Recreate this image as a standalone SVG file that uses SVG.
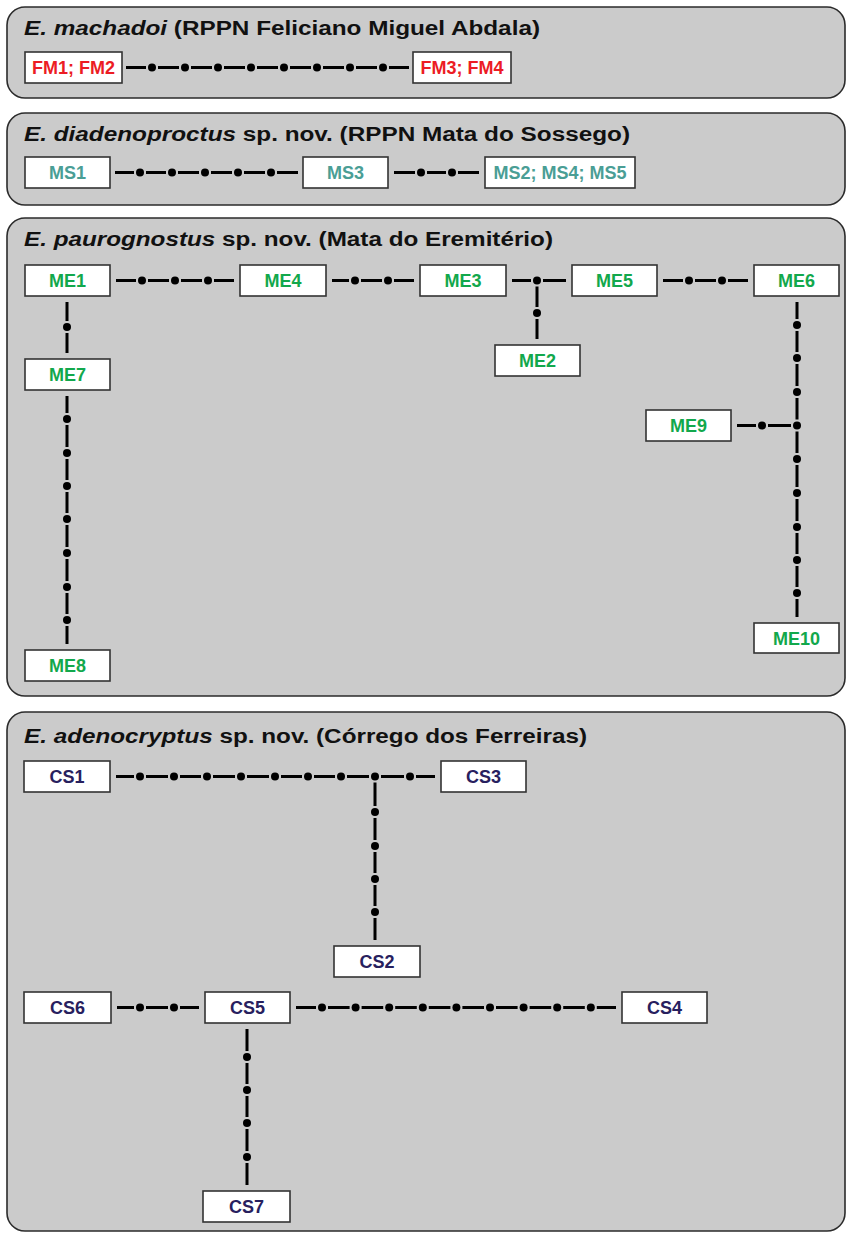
<svg xmlns="http://www.w3.org/2000/svg" width="846" height="1233" viewBox="0 0 846 1233">
<style>
.panel{fill:#cbcbcb;stroke:#2b2b2b;stroke-width:1.6}
.box{fill:#ffffff;stroke:#333333;stroke-width:1.6}
.title{font-family:"Liberation Sans",Arial,sans-serif;font-weight:bold;font-size:20px;fill:#111111}
.lbl{font-family:"Liberation Sans",Arial,sans-serif;font-weight:bold;font-size:18px;text-anchor:middle}
.fm{fill:#ec1c24}.ms{fill:#4a9e95}.me{fill:#12a84c}.cs{fill:#27205e}
.seg{fill:none;stroke:#000000;stroke-width:3}
.dot{fill:#000000}
</style>
<rect width="846" height="1233" fill="#ffffff"/>
<g id="panels">
<rect class="panel" x="7" y="7" width="838" height="91" rx="18"/>
<rect class="panel" x="7" y="113" width="838" height="92" rx="18"/>
<rect class="panel" x="7" y="218" width="838" height="478" rx="18"/>
<rect class="panel" x="7" y="712" width="838" height="519" rx="18"/>
<text class="title" x="24" y="35" textLength="516" lengthAdjust="spacingAndGlyphs"><tspan font-style="italic">E. machadoi</tspan> (RPPN Feliciano Miguel Abdala)</text>
<text class="title" x="24" y="141" textLength="606" lengthAdjust="spacingAndGlyphs"><tspan font-style="italic">E. diadenoproctus</tspan> sp. nov. (RPPN Mata do Sossego)</text>
<text class="title" x="24" y="246" textLength="529" lengthAdjust="spacingAndGlyphs"><tspan font-style="italic">E. paurognostus</tspan> sp. nov. (Mata do Eremitério)</text>
<text class="title" x="24" y="743" textLength="563" lengthAdjust="spacingAndGlyphs"><tspan font-style="italic">E. adenocryptus</tspan> sp. nov. (Córrego dos Ferreiras)</text>
</g>
<g id="connectors">
<path class="seg" d="M126 67.5H146M158 67.5H179M191 67.5H212M224 67.5H245M257 67.5H278M290 67.5H311M323 67.5H344M356 67.5H377M389 67.5H409"/>
<g class="dot"><circle cx="152" cy="67.5" r="4"/><circle cx="185" cy="67.5" r="4"/><circle cx="218" cy="67.5" r="4"/><circle cx="251" cy="67.5" r="4"/><circle cx="284" cy="67.5" r="4"/><circle cx="317" cy="67.5" r="4"/><circle cx="350" cy="67.5" r="4"/><circle cx="383" cy="67.5" r="4"/></g>

<path class="seg" d="M115 172.5H134M146 172.5H166M178 172.5H199M211 172.5H232M244 172.5H265M277 172.5H298"/>
<g class="dot"><circle cx="140" cy="172.5" r="4"/><circle cx="172" cy="172.5" r="4"/><circle cx="205" cy="172.5" r="4"/><circle cx="238" cy="172.5" r="4"/><circle cx="271" cy="172.5" r="4"/></g>
<path class="seg" d="M394 172.5H415M427 172.5H446M458 172.5H479"/>
<g class="dot"><circle cx="421" cy="172.5" r="4"/><circle cx="452" cy="172.5" r="4"/></g>

<path class="seg" d="M116 280.5H136M148 280.5H169M181 280.5H202M214 280.5H234"/>
<g class="dot"><circle cx="142" cy="280.5" r="4"/><circle cx="175" cy="280.5" r="4"/><circle cx="208" cy="280.5" r="4"/></g>
<path class="seg" d="M332 280.5H349M361 280.5H382M394 280.5H414"/>
<g class="dot"><circle cx="355" cy="280.5" r="4"/><circle cx="388" cy="280.5" r="4"/></g>
<path class="seg" d="M512 280.5H531M543 280.5H566M537 286.5V307M537 319V339"/>
<g class="dot"><circle cx="537" cy="280.5" r="4"/><circle cx="537" cy="313" r="4"/></g>
<path class="seg" d="M663 280.5H683M695 280.5H716M728 280.5H748"/>
<g class="dot"><circle cx="689" cy="280.5" r="4"/><circle cx="722" cy="280.5" r="4"/></g>
<path class="seg" d="M67 302V321M67 333V353"/>
<g class="dot"><circle cx="67" cy="327" r="4"/></g>
<path class="seg" d="M67 396V413M67 425V447M67 459V480M67 492V513M67 525V547M67 559V581M67 593V614M67 626V644"/>
<g class="dot"><circle cx="67" cy="419" r="4"/><circle cx="67" cy="453" r="4"/><circle cx="67" cy="486" r="4"/><circle cx="67" cy="519" r="4"/><circle cx="67" cy="553" r="4"/><circle cx="67" cy="587" r="4"/><circle cx="67" cy="620" r="4"/></g>
<path class="seg" d="M797 302V319M797 331V352M797 364V386M797 398V419.5M797 431.5V453M797 465V487M797 499V521M797 533V554M797 566V587M797 599V617"/>
<g class="dot"><circle cx="797" cy="325" r="4"/><circle cx="797" cy="358" r="4"/><circle cx="797" cy="392" r="4"/><circle cx="797" cy="425.5" r="4"/><circle cx="797" cy="459" r="4"/><circle cx="797" cy="493" r="4"/><circle cx="797" cy="527" r="4"/><circle cx="797" cy="560" r="4"/><circle cx="797" cy="593" r="4"/></g>
<path class="seg" d="M737 425.5H756M768 425.5H791"/>
<g class="dot"><circle cx="762" cy="425.5" r="4"/></g>

<path class="seg" d="M116 776.5H134M146 776.5H168M180 776.5H201M213 776.5H235M247 776.5H269M281 776.5H302M314 776.5H335M347 776.5H369M381 776.5H404M416 776.5H435"/>
<g class="dot"><circle cx="140" cy="776.5" r="4"/><circle cx="174" cy="776.5" r="4"/><circle cx="207" cy="776.5" r="4"/><circle cx="241" cy="776.5" r="4"/><circle cx="275" cy="776.5" r="4"/><circle cx="308" cy="776.5" r="4"/><circle cx="341" cy="776.5" r="4"/><circle cx="375" cy="776.5" r="4"/><circle cx="410" cy="776.5" r="4"/></g>
<path class="seg" d="M375 782.5V806M375 818V840M375 852V873M375 885V906M375 918V940"/>
<g class="dot"><circle cx="375" cy="812" r="4"/><circle cx="375" cy="846" r="4"/><circle cx="375" cy="879" r="4"/><circle cx="375" cy="912" r="4"/></g>
<path class="seg" d="M117 1007.5H134M146 1007.5H168M180 1007.5H199"/>
<g class="dot"><circle cx="140" cy="1007.5" r="4"/><circle cx="174" cy="1007.5" r="4"/></g>
<path class="seg" d="M296 1007.5H316M328 1007.5H349.6M361.6 1007.5H383.2M395.2 1007.5H416.8M428.8 1007.5H450.4M462.4 1007.5H484M496 1007.5H517.6M529.6 1007.5H551.2M563.2 1007.5H584.8M596.8 1007.5H616"/>
<g class="dot"><circle cx="322" cy="1007.5" r="4"/><circle cx="355.6" cy="1007.5" r="4"/><circle cx="389.2" cy="1007.5" r="4"/><circle cx="422.8" cy="1007.5" r="4"/><circle cx="456.4" cy="1007.5" r="4"/><circle cx="490" cy="1007.5" r="4"/><circle cx="523.6" cy="1007.5" r="4"/><circle cx="557.2" cy="1007.5" r="4"/><circle cx="590.8" cy="1007.5" r="4"/></g>
<path class="seg" d="M247 1029V1051M247 1063V1084M247 1096V1117M247 1129V1151M247 1163V1185"/>
<g class="dot"><circle cx="247" cy="1057" r="4"/><circle cx="247" cy="1090" r="4"/><circle cx="247" cy="1123" r="4"/><circle cx="247" cy="1157" r="4"/></g>
</g>
<g id="FM1FM2"><rect class="box" x="25" y="52" width="97" height="31"/><text class="lbl fm" x="73.5" y="74">FM1; FM2</text></g>
<g id="FM3FM4"><rect class="box" x="413" y="52" width="98" height="31"/><text class="lbl fm" x="462" y="74">FM3; FM4</text></g>
<g id="MS1"><rect class="box" x="25" y="157" width="85" height="31"/><text class="lbl ms" x="67.5" y="179">MS1</text></g>
<g id="MS3"><rect class="box" x="303" y="157" width="85" height="31"/><text class="lbl ms" x="345.5" y="179">MS3</text></g>
<g id="MS2MS4MS5"><rect class="box" x="485" y="157" width="150" height="31"/><text class="lbl ms" x="560" y="179">MS2; MS4; MS5</text></g>
<g id="ME1"><rect class="box" x="25" y="265" width="85" height="31"/><text class="lbl me" x="67.5" y="287">ME1</text></g>
<g id="ME4"><rect class="box" x="240" y="265" width="86" height="31"/><text class="lbl me" x="283" y="287">ME4</text></g>
<g id="ME3"><rect class="box" x="420" y="265" width="86" height="31"/><text class="lbl me" x="463" y="287">ME3</text></g>
<g id="ME5"><rect class="box" x="572" y="265" width="85" height="31"/><text class="lbl me" x="614.5" y="287">ME5</text></g>
<g id="ME6"><rect class="box" x="754" y="265" width="85" height="31"/><text class="lbl me" x="796.5" y="287">ME6</text></g>
<g id="ME2"><rect class="box" x="495" y="345" width="85" height="31"/><text class="lbl me" x="537.5" y="367">ME2</text></g>
<g id="ME7"><rect class="box" x="25" y="359" width="85" height="31"/><text class="lbl me" x="67.5" y="381">ME7</text></g>
<g id="ME9"><rect class="box" x="646" y="410" width="85" height="31"/><text class="lbl me" x="688.5" y="432">ME9</text></g>
<g id="ME10"><rect class="box" x="754" y="623" width="85" height="30"/><text class="lbl me" x="796.5" y="644.5">ME10</text></g>
<g id="ME8"><rect class="box" x="25" y="650" width="85" height="31"/><text class="lbl me" x="67.5" y="672">ME8</text></g>
<g id="CS1"><rect class="box" x="24" y="761" width="86" height="31"/><text class="lbl cs" x="67" y="783">CS1</text></g>
<g id="CS3"><rect class="box" x="441" y="761" width="85" height="31"/><text class="lbl cs" x="483.5" y="783">CS3</text></g>
<g id="CS2"><rect class="box" x="334" y="946" width="86" height="31"/><text class="lbl cs" x="377" y="968">CS2</text></g>
<g id="CS6"><rect class="box" x="24" y="992" width="87" height="31"/><text class="lbl cs" x="67.5" y="1014">CS6</text></g>
<g id="CS5"><rect class="box" x="205" y="992" width="85" height="31"/><text class="lbl cs" x="247.5" y="1014">CS5</text></g>
<g id="CS4"><rect class="box" x="622" y="992" width="85" height="31"/><text class="lbl cs" x="664.5" y="1014">CS4</text></g>
<g id="CS7"><rect class="box" x="203" y="1191" width="87" height="31"/><text class="lbl cs" x="246.5" y="1213">CS7</text></g>
</svg>
